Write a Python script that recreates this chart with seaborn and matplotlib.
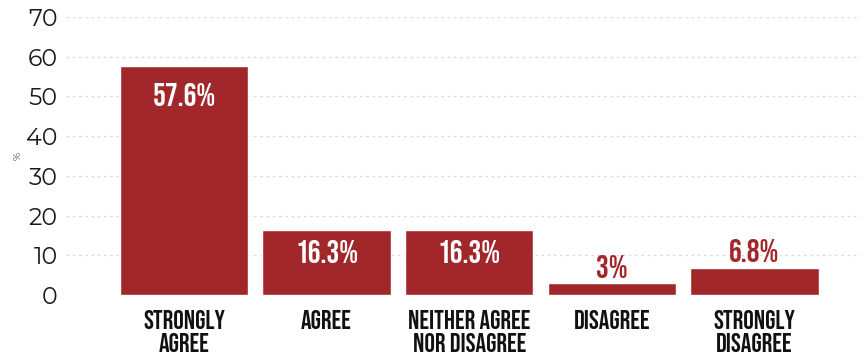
import matplotlib
matplotlib.use("Agg")
import matplotlib.pyplot as plt
import seaborn as sns
import pandas as pd

categories = ["STRONGLY\nAGREE", "AGREE", "NEITHER AGREE\nNOR DISAGREE", "DISAGREE", "STRONGLY\nDISAGREE"]
values = [57.6, 16.3, 16.3, 3.0, 6.8]
value_labels = ["57.6%", "16.3%", "16.3%", "3%", "6.8%"]
yticks = [0, 10, 20, 30, 40, 50, 60, 70]

BAR = "#A1272B"
HEAD = ["Bebas Neue", "DejaVu Sans"]

sns.set_theme(style="white")
plt.rcParams["font.family"] = ["Montserrat Alternates", "DejaVu Sans"]

df = pd.DataFrame({"category": categories, "value": values})

fig = plt.figure(figsize=(8.61, 3.62), dpi=100)
ax = fig.add_axes([66 / 861, (362 - 295) / 362, 795 / 861, 278 / 362])

sns.barplot(data=df, x="category", y="value", color=BAR, width=0.9,
            saturation=1, ax=ax, zorder=2)

ax.set_xlim(-0.827, 4.748)
ax.set_ylim(0, 70)
ax.set_yticks(yticks)
ax.set_yticklabels([str(t) for t in yticks], fontsize=17, color="#1a1a1a")
ax.yaxis.grid(True, linestyle=(0, (2, 3)), color="#d9d9d9", linewidth=0.9, zorder=0)
ax.set_axisbelow(True)
for s in ax.spines.values():
    s.set_visible(False)
ax.tick_params(axis="both", length=0)
ax.tick_params(axis="y", pad=6)
ax.tick_params(axis="x", pad=11)

ax.set_xlabel("")
ax.set_ylabel("%", fontsize=7, color="#333333", labelpad=3)

ax.set_xticks(range(len(categories)))
ax.set_xticklabels(categories, family=HEAD, fontsize=19,
                   color="#111111", linespacing=1.22, va="top")

for i, (v, lab) in enumerate(zip(values, value_labels)):
    if v > 10:
        drop = 20 if v > 30 else 15
        ax.annotate(lab, (i, v), xytext=(0, -drop), textcoords="offset points",
                    ha="center", va="center", color="white", fontsize=23,
                    family=HEAD)
    else:
        ax.annotate(lab, (i, v), xytext=(0, 4), textcoords="offset points",
                    ha="center", va="baseline", color=BAR, fontsize=23,
                    family=HEAD)

fig.savefig("out.png", dpi=100, facecolor="white")
